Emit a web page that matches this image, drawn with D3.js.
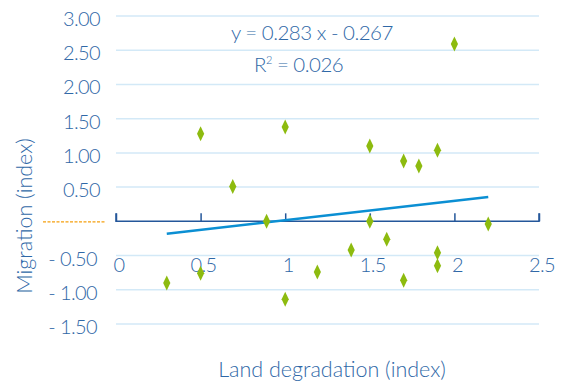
<!DOCTYPE html>
<html>
<head>
<meta charset="utf-8">
<script src="https://cdn.jsdelivr.net/npm/d3@7"></script>
<style>
  body { margin: 0; background: #ffffff; }
  text { font-family: "Lato", "Open Sans", sans-serif; font-weight: 300; }
</style>
</head>
<body>
<div id="chart"></div>
<script>
// data
const landDegradation = [0.30, 0.50, 0.50, 0.69, 0.89, 1.00, 1.00, 1.19, 1.39, 1.50,
                         1.50, 1.60, 1.70, 1.70, 1.79, 1.90, 1.90, 1.90, 2.00, 2.20];
const migration = [-0.90, -0.76, 1.28, 0.51, 0.00, 1.38, -1.14, -0.74, -0.42, 1.10,
                   0.00, -0.26, 0.88, -0.86, 0.81, 1.04, -0.46, -0.65, 2.59, -0.04];

const yTicks = [3.0, 2.5, 2.0, 1.5, 1.0, 0.5, -0.5, -1.0, -1.5];
const yTickLabels = ["3.00", "2.50", "2.00", "1.50", "1.00", "0.50", "- 0.50", "- 1.00", "- 1.50"];
const xTicks = [0, 0.5, 1, 1.5, 2, 2.5];
const xTickLabels = ["0", "0.5", "1", "1.5", "2", "2.5"];

// linear trend shown on the chart
const trendSlope = 0.283;
const trendIntercept = -0.267;
const trendRange = [0.3, 2.2];
const equationText = "y = 0.283 x - 0.267";
const r2Value = "0.026";

const width = 569;
const height = 386;

const textBlue = "#2f68a7";
const axisBlue = "#24579a";
const gridBlue = "#d3e9f7";
const green = "#8dbb0f";

const x = d3.scaleLinear().domain([0, 2.5]).range([116, 539]);
const y = d3.scaleLinear().domain([-1.5, 3]).range([324, 16]);

const svg = d3.select("#chart")
  .append("svg")
  .attr("width", width)
  .attr("height", height);

// gridlines (no line at zero, the axis sits there)
svg.append("g")
  .selectAll("line")
  .data(yTicks)
  .join("line")
  .attr("x1", x(0))
  .attr("x2", x(2.5))
  .attr("y1", d => y(d))
  .attr("y2", d => y(d))
  .style("stroke", gridBlue)
  .style("stroke-width", 1.5);

// y tick labels
svg.append("g")
  .selectAll("text")
  .data(yTicks)
  .join("text")
  .attr("x", (d, i) => d < 0 ? 97 : 100)
  .attr("y", d => y(d) + 10)
  .attr("text-anchor", "end")
  .style("font-size", "20px")
  .style("letter-spacing", "-0.6px")
  .style("fill", textBlue)
  .text((d, i) => yTickLabels[i]);

// orange dashed stub where the zero label would be
svg.append("line")
  .attr("x1", 43)
  .attr("x2", 105)
  .attr("y1", y(0) + 0.5)
  .attr("y2", y(0) + 0.5)
  .style("stroke", "#f5a00f")
  .style("stroke-width", 1.2)
  .style("stroke-dasharray", "3,1.5");

// x axis crossing at zero, ticks pointing up
const xAxis = d3.axisTop(x)
  .tickValues(xTicks)
  .tickSize(8)
  .tickFormat("");

svg.append("g")
  .attr("transform", `translate(0, ${y(0)})`)
  .call(xAxis)
  .call(g => g.select(".domain").attr("d", `M${x(0)},-8V0H${x(2.5)}V-8`))
  .call(g => g.selectAll("path, line").style("stroke", axisBlue).style("stroke-width", 1.5));

// x tick labels, sitting under the -0.5 gridline
svg.append("g")
  .selectAll("text")
  .data(xTicks)
  .join("text")
  .attr("x", d => x(d) + 3)
  .attr("y", 272)
  .attr("text-anchor", "middle")
  .style("font-size", "20px")
  .style("letter-spacing", "-0.6px")
  .style("fill", textBlue)
  .text((d, i) => xTickLabels[i]);

// trend line
svg.append("line")
  .attr("x1", x(trendRange[0]))
  .attr("x2", x(trendRange[1]))
  .attr("y1", y(trendSlope * trendRange[0] + trendIntercept))
  .attr("y2", y(trendSlope * trendRange[1] + trendIntercept))
  .style("stroke", "#0b8fd3")
  .style("stroke-width", 2.5);

// diamond markers
const diamond = "M0,-7.5L3.6,0L0,7.5L-3.6,0Z";
svg.append("g")
  .selectAll("path")
  .data(landDegradation)
  .join("path")
  .attr("d", diamond)
  .attr("transform", (d, i) => `translate(${x(d)}, ${y(migration[i])})`)
  .style("fill", green);

// equation
svg.append("text")
  .attr("x", 231)
  .attr("y", 40)
  .style("font-size", "20.5px")
  .style("letter-spacing", "-0.5px")
  .style("fill", textBlue)
  .text(equationText);

const r2 = svg.append("text")
  .attr("x", 254)
  .attr("y", 72)
  .style("font-size", "20.5px")
  .style("letter-spacing", "-0.5px")
  .style("fill", textBlue);
r2.append("tspan").text("R");
r2.append("tspan").attr("dy", -8).style("font-size", "11px").text("2");
r2.append("tspan").attr("dy", 8).text(" = " + r2Value);

// axis titles
svg.append("text")
  .attr("x", 332)
  .attr("y", 377)
  .attr("text-anchor", "middle")
  .style("font-size", "21.5px")
  .style("fill", textBlue)
  .text("Land degradation (index)");

svg.append("text")
  .attr("transform", "translate(32, 216) rotate(-90)")
  .attr("text-anchor", "middle")
  .style("font-size", "21.5px")
  .style("fill", textBlue)
  .text("Migration (index)");
</script>
</body>
</html>
